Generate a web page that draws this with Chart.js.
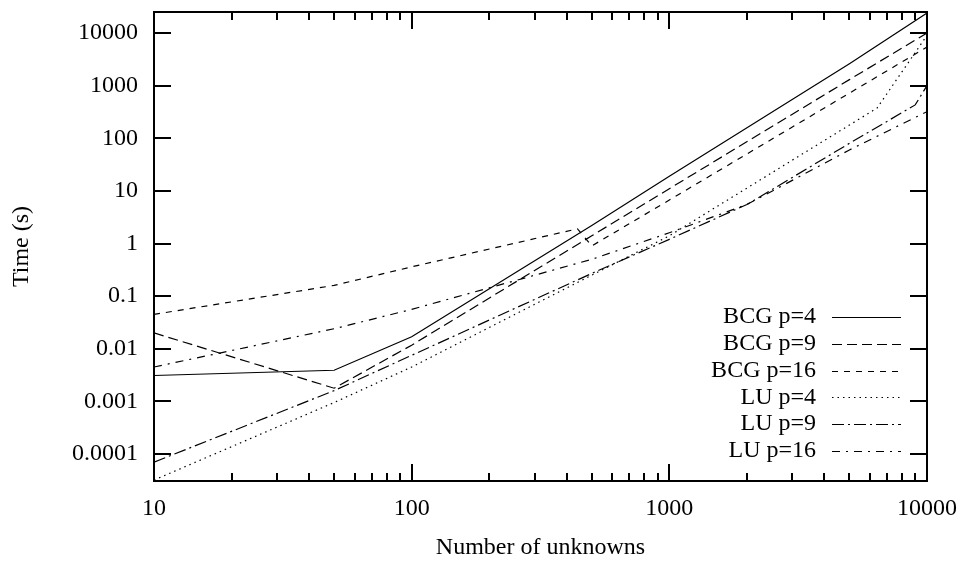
<!DOCTYPE html>
<html><head><meta charset="utf-8">
<script src="https://cdn.jsdelivr.net/npm/chart.js@4.4.1/dist/chart.umd.min.js"></script>
<style>html,body{margin:0;padding:0;background:#fff}#wrap{width:962px;height:563px}</style>
</head><body><div id="wrap"><canvas id="c" width="962" height="563"></canvas></div>
<script>
// ---- data ----
const xTicks = [10, 100, 1000, 10000];
const yTicks = [0.0001, 0.001, 0.01, 0.1, 1, 10, 100, 1000, 10000];
const xMinor = [20,30,40,50,60,70,80,90,200,300,400,500,600,700,800,900,2000,3000,4000,5000,6000,7000,8000,9000];
const seriesLabels = ['BCG p=4', 'BCG p=9', 'BCG p=16', 'LU p=4', 'LU p=9', 'LU p=16'];

const bcg4X  = [10, 50, 100, 500, 1000, 5000, 10000];
const bcg4Y  = [0.0031, 0.0039, 0.0169, 2.2, 19, 2600, 24000];
const bcg9X  = [10, 50, 100, 500, 1000, 5000, 10000];
const bcg9Y  = [0.02, 0.00178, 0.0117, 1.4, 11, 1300, 10000];
const bcg16X = [10, 50, 100, 440, 500, 1000, 5000, 10000];
const bcg16Y = [0.045, 0.16, 0.36, 1.9, 0.9, 6.7, 720, 5400];
const lu4X   = [10, 50, 100, 500, 1000, 6400, 10000];
const lu4Y   = [0.000032, 0.00095, 0.0045, 0.25, 1.4, 375, 9000];
const lu9X   = [10, 50, 100, 500, 1000, 2000, 5000, 9000, 10000];
const lu9Y   = [0.00007, 0.0016, 0.0075, 0.27, 1.2, 5.5, 80, 430, 1000];
const lu16X  = [10, 50, 100, 500, 1000, 2000, 5000, 10000];
const lu16Y  = [0.0045, 0.024, 0.056, 0.5, 1.6, 5.5, 60, 320];

const xs = [bcg4X, bcg9X, bcg16X, lu4X, lu9X, lu16X];
const ys = [bcg4Y, bcg9Y, bcg16Y, lu4Y, lu9Y, lu16Y];
const dashes = [[], [10, 5], [6, 6], [1.5, 4], [12, 4, 2, 4], [8, 6, 2, 6]];

const FONT = 'Liberation Serif';
const datasets = seriesLabels.map((lab, i) => ({
  label: lab,
  data: xs[i].map((x, j) => ({x: x, y: ys[i][j]})),
  borderColor: '#000',
  borderWidth: 1.2,
  borderDash: dashes[i],
  pointRadius: 0,
  fill: false,
  tension: 0
}));

const zeroPad = s => { s.paddingTop = 0; s.paddingBottom = 0; s.paddingLeft = 0; s.paddingRight = 0; };

const framePlugin = {
  id: 'frame',
  afterDatasetsDraw(chart) {
    const {ctx, chartArea: a, scales} = chart;
    ctx.save();
    ctx.strokeStyle = '#000';
    ctx.lineWidth = 2;
    ctx.setLineDash([]);
    ctx.strokeRect(a.left, a.top, a.right - a.left, a.bottom - a.top);
    ctx.beginPath();
    yTicks.forEach(v => {
      const y = Math.round(scales.y.getPixelForValue(v));
      ctx.moveTo(a.left, y); ctx.lineTo(a.left + 17, y);
      ctx.moveTo(a.right, y); ctx.lineTo(a.right - 17, y);
    });
    xTicks.forEach(v => {
      const x = Math.round(scales.x.getPixelForValue(v));
      ctx.moveTo(x, a.bottom); ctx.lineTo(x, a.bottom - 17);
      ctx.moveTo(x, a.top); ctx.lineTo(x, a.top + 17);
    });
    xMinor.forEach(v => {
      const x = Math.round(scales.x.getPixelForValue(v));
      ctx.moveTo(x, a.bottom); ctx.lineTo(x, a.bottom - 8);
      ctx.moveTo(x, a.top); ctx.lineTo(x, a.top + 8);
    });
    ctx.stroke();
    // legend
    ctx.font = '24px "' + FONT + '"';
    ctx.fillStyle = '#000';
    ctx.textAlign = 'right';
    ctx.textBaseline = 'middle';
    chart.data.datasets.forEach((ds, i) => {
      const y = a.top + 305 + i * 26.8;
      ctx.fillText(ds.label, a.right - 111, y);
      ctx.beginPath();
      ctx.lineWidth = 1.2;
      ctx.setLineDash(ds.borderDash);
      ctx.moveTo(a.right - 95, Math.round(y) + 0.5);
      ctx.lineTo(a.right - 26, Math.round(y) + 0.5);
      ctx.stroke();
    });
    ctx.restore();
  }
};

new Chart(document.getElementById('c'), {
  type: 'line',
  data: {datasets},
  options: {
    responsive: false,
    animation: false,
    devicePixelRatio: 1,
    layout: {padding: {left: 0, right: 35, top: 12, bottom: 0}},
    plugins: {legend: {display: false}, tooltip: {enabled: false}},
    scales: {
      x: {
        type: 'logarithmic', min: 10, max: 10000,
        afterBuildTicks: s => { s.ticks = xTicks.map(v => ({value: v})); },
        afterFit: s => { s.height = 82; zeroPad(s); },
        grid: {display: false, drawTicks: false},
        border: {display: false},
        ticks: {color: '#000', padding: 13, maxRotation: 0, autoSkip: false,
                font: {family: FONT, size: 24}, callback: v => String(v)},
        title: {display: true, text: 'Number of unknowns', color: '#000',
                font: {family: FONT, size: 24}, padding: {top: 0, bottom: 1}}
      },
      y: {
        type: 'logarithmic', min: 3.07e-5, max: 25060,
        afterBuildTicks: s => { s.ticks = yTicks.map(v => ({value: v})); },
        afterFit: s => { s.width = 154; zeroPad(s); },
        grid: {display: false, drawTicks: false},
        border: {display: false},
        ticks: {color: '#000', padding: 16, autoSkip: false,
                font: {family: FONT, size: 24}, callback: v => String(v)},
        title: {display: true, text: 'Time (s)', color: '#000',
                font: {family: FONT, size: 24}, padding: {top: 7, bottom: 0}}
      }
    }
  },
  plugins: [framePlugin]
});
</script>
</body></html>
